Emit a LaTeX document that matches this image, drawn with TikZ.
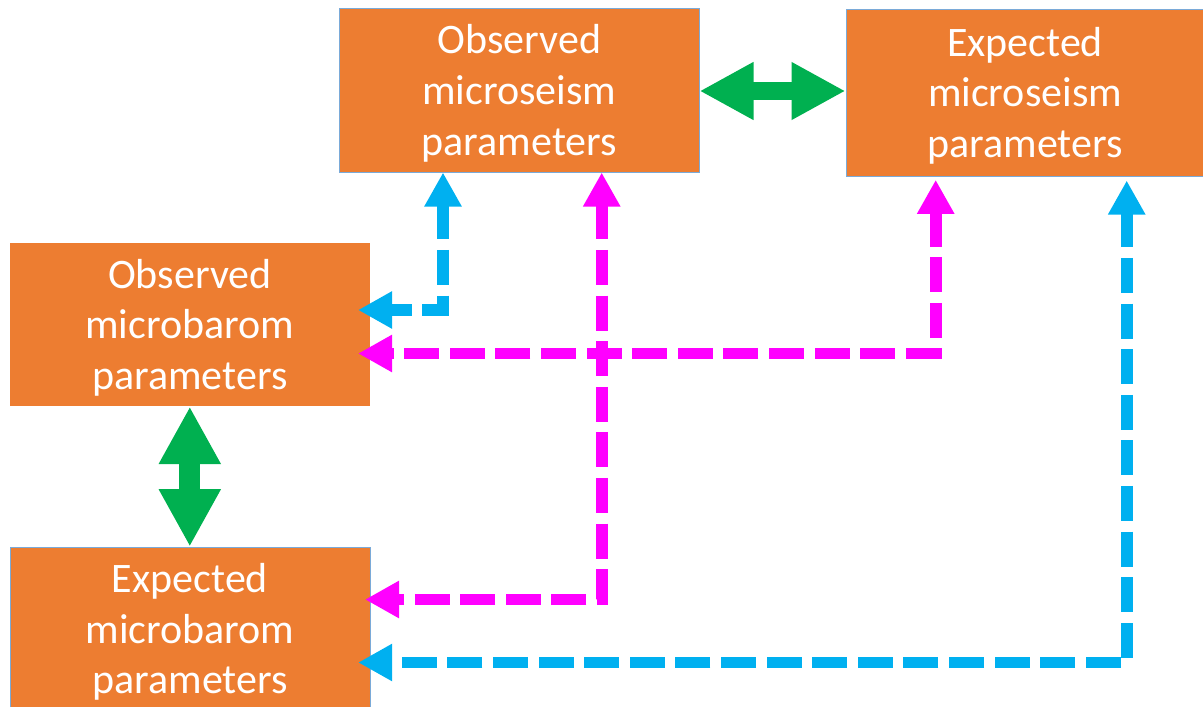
\documentclass[tikz,border=0pt]{standalone}
\usepackage{fontspec}
\setmainfont{Carlito}
\usetikzlibrary{arrows.meta,calc}
\definecolor{boxorange}{HTML}{ED7D31}
\definecolor{boxline}{HTML}{7AAAD8}
\definecolor{arrgreen}{HTML}{00B050}
\definecolor{arrblue}{HTML}{00B0F0}
\definecolor{arrmag}{HTML}{FF00FF}
\newcommand{\toppadline}[1]{\raisebox{0pt}[\dimexpr\height+2.8pt\relax]{#1}}
\begin{document}
\begin{tikzpicture}[x=0.5pt,y=-0.5pt,
  paramsbox/.style={fill=boxorange, text=white, align=center, inner sep=0pt,
    font=\fontsize{21}{25.3}\selectfont},
  edged/.style={draw=boxline, line width=0.5pt},
  dashlink/.style={line width=5.85pt, dash pattern=on 17.5pt off 5.3pt,
    {Triangle[length=17pt,width=17.5pt]}-{Triangle[length=17pt,width=17.5pt]}},
  greenh/.style={arrgreen, line width=9.2pt,
    {Triangle[length=27pt,width=27pt]}-{Triangle[length=27pt,width=27pt]}},
  greenv/.style={arrgreen, line width=10.5pt,
    {Triangle[length=28.8pt,width=29pt]}-{Triangle[length=28.8pt,width=29pt]}},
]
\useasboundingbox (0,0) rectangle (1203,706);
\clip (0,0) rectangle (1203,706);

\node[paramsbox, edged, minimum width=179.7pt, minimum height=81.5pt] (obsSeis) at (519.3,90.5)
  {\toppadline{Observed}\\microseism\\parameters};
\node[paramsbox, edged, minimum width=179pt, minimum height=83pt] (expSeis) at (1025,93)
  {\toppadline{Expected}\\microseism\\parameters};
\node[paramsbox, minimum width=180pt, minimum height=81.4pt] (obsBar) at (189.8,324.7)
  {\toppadline{Observed}\\microbarom\\parameters};
\node[paramsbox, edged, minimum width=180pt, minimum height=81.8pt] (expBar) at (190,629)
  {\toppadline{Expected}\\microbarom\\parameters};

% green double arrows
\coordinate (gY) at (0,91);
\draw[greenh] (obsSeis.east |- gY) -- (expSeis.west |- gY);
\draw[greenv] (obsBar.south) -- (obsBar.south |- expBar.north);

% helper positions
\coordinate (xB1) at (443,0);
\coordinate (yB1) at (0,310);
\coordinate (xM1) at (601.7,0);
\coordinate (yM1) at (0,599.5);
\coordinate (xM2) at (935.7,0);
\coordinate (yM2) at (0,353.5);
\coordinate (xB2) at (1126.7,0);
\coordinate (yB2) at (0,662.5);

% dashed connectors
\draw[dashlink, arrblue] (obsSeis.south -| xB1) |- ($(obsBar.east |- yB1)+(-12.2,0)$);
\draw[dashlink, arrmag] (obsSeis.south -| xM1) |- ($(expBar.east |- yM1)+(-5.5,0)$);
\draw[dashlink, arrmag] ($(expSeis.south -| xM2)+(0,3.3)$) |- ($(obsBar.east |- yM2)+(-12.2,0)$);
\draw[dashlink, arrblue] ($(expSeis.south -| xB2)+(0,4)$) |- ($(expBar.east |- yB2)+(-12.4,0)$);
\end{tikzpicture}
\end{document}
